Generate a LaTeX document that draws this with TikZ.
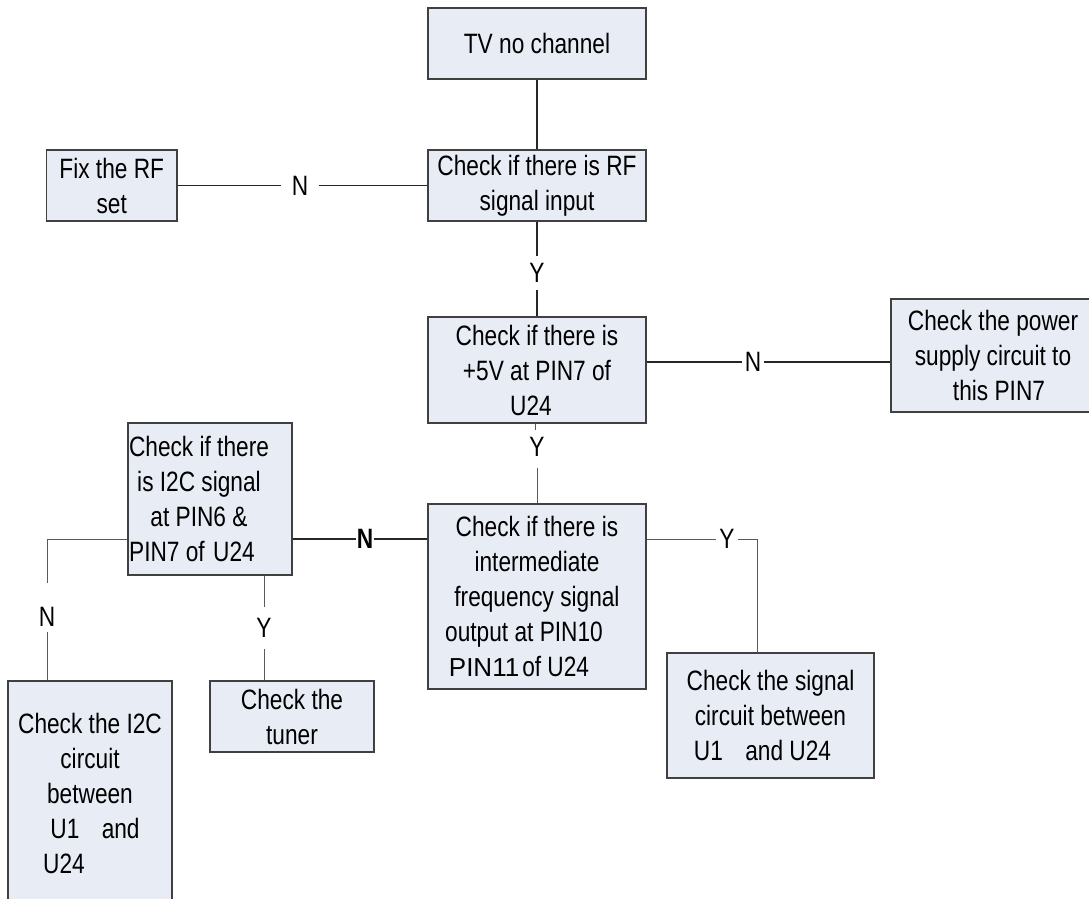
\documentclass[tikz,border=0pt]{standalone}
\usepackage{fontspec}
\setmainfont{Liberation Sans}[FakeStretch=0.81]
\newfontfamily\widesans{Liberation Sans}
\usepackage{tikz}
\usetikzlibrary{positioning, shadows}
\definecolor{boxfill}{RGB}{232,236,245}
\newcommand{\pad}[1]{\rule{#1}{0pt}}

\begin{document}
\begin{tikzpicture}[
    x=0.5pt,y=-0.5pt,
    box/.style={draw=black!75,line width=0.6pt,fill=boxfill,inner sep=0pt,
      align=center,font=\fontsize{14}{17.5}\selectfont,
      drop shadow={shadow xshift=0.3pt,shadow yshift=-0.7pt,fill=black!60,opacity=0.8}},
    lbl/.style={font=\fontsize{14}{17.5}\selectfont,inner sep=#1},
    lbl/.default=2pt,
    conn/.style={draw=black!85,line width=0.6pt},
    thinconn/.style={draw=black!65,line width=0.45pt}
  ]
  \useasboundingbox (0,0) rectangle (1089,899);

  % boxes
  \node[box,minimum width=109pt,minimum height=35.5pt] (tv) at (537,43.5) {TV no channel};
  \node[box,minimum width=109pt,minimum height=35.5pt] (rf) at (537,185.5) {Check if there is RF\\signal input};
  \node[box,minimum width=65.25pt,minimum height=35.5pt] (fix) at (111.75,185.5) {Fix the RF\\set};
  \node[box,minimum width=109pt,minimum height=53pt] (volt) at (537,370) {Check if there is\\+5V at PIN7 of\\U24\pad{6pt}};
  \node[box,minimum width=102pt,minimum height=56.5pt] (power) at (993,355.5) {Check the power\\supply circuit to\\\pad{6pt}this PIN7};
  \node[box,minimum width=82pt,minimum height=76pt] (i2c) at (210,499) {Check if there\pad{11pt}\\is I2C signal\pad{11pt}\\at PIN6 \&\pad{11pt}\\PIN7 of\hspace{0.3em}U24\pad{18pt}};
  \node[box,minimum width=109pt,minimum height=92.5pt] (ifreq) at (537,596.5) {Check if there is\\intermediate\\frequency signal\\output at PIN10\pad{13pt}\\{\widesans\fontsize{13}{17.5}\selectfont PIN11}\hspace{1.5pt}of U24\pad{18pt}};
  \node[box,minimum width=103.5pt,minimum height=62.5pt] (signal) at (770.5,715.5) {Check the signal\\circuit between\\U1\hspace{0.8em}and U24\pad{8pt}};
  \node[box,minimum width=82pt,minimum height=112pt] (i2cfix) at (90,793) {Check the I2C\\circuit\\between\\\pad{5pt}U1\hspace{0.8em}and\\U24\pad{26pt}};
  \node[box,minimum width=82pt,minimum height=35.5pt] (tuner) at (292,716.5) {Check the\\tuner};

  % answers
  \node[lbl=5pt] (n1) at (300,185.5) {N};
  \node[lbl=3.5pt] (y1) at (537,273) {Y};
  \node[lbl=1.2pt] (n2) at (753,362) {N};
  \node[lbl=5.5pt] (y2) at (537,447) {Y};
  \node[lbl=0pt] (n3) at (365,539) {\textbf{N}};
  \node[lbl=1.5pt] (y3) at (727,539) {Y};
  \node[lbl=2.5pt] (n4) at (47,617) {N};
  \node[lbl=5.5pt] (y4) at (264,628) {Y};

  \coordinate (tick) at (535,430);
  \coordinate (sigtop) at (757,653);

  \draw[conn] (tv) -- (rf);
  \draw[conn] (fix) -- (n1);
  \draw[conn] (n1) -- (rf);
  \draw[conn] (rf) -- (y1);
  \draw[conn] (y1) -- (volt);
  \draw[conn] (volt.east |- n2) -- (n2);
  \draw[conn] (n2) -- (power.west |- n2);
  \draw[thinconn] ([xshift=-1pt]volt.south) -- (tick);
  \draw[thinconn] (y2) -- (ifreq);
  \draw[conn] (i2c.east |- n3) -- (n3);
  \draw[conn] (n3) -- (ifreq.west |- n3);
  \draw[thinconn] (ifreq.east |- y3) -- (y3);
  \draw[thinconn] (y3) -| (sigtop);
  \draw[thinconn,shorten >=9.5pt] (i2c.west |- n3) -| (n4);
  \draw[thinconn] (n4) -- (n4 |- i2cfix.north);
  \draw[thinconn] (i2c.south -| y4) -- (y4);
  \draw[thinconn] (y4) -- (y4 |- tuner.north);
\end{tikzpicture}
\end{document}
